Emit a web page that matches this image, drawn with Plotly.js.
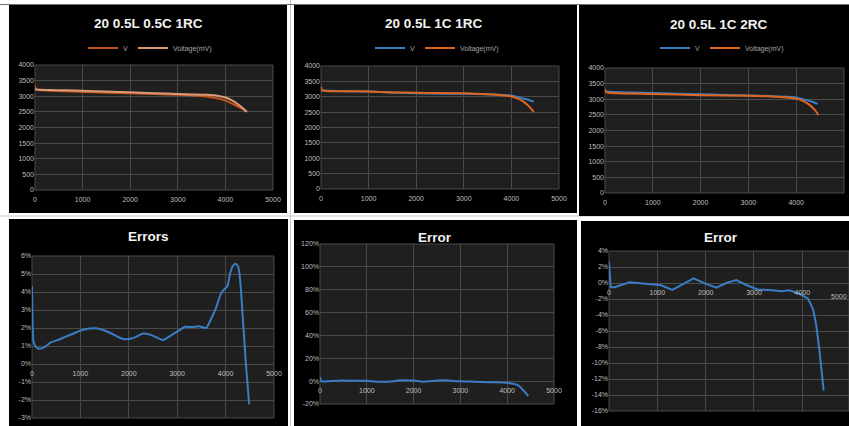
<!DOCTYPE html>
<html><head><meta charset="utf-8">
<script src="https://cdn.plot.ly/plotly-3.0.1.min.js"></script>
<style>html,body{margin:0;padding:0;background:#fff;}#chart{width:849px;height:426px;}</style>
</head><body><div id="chart"></div>
<script>
// ---------- DATA ----------
const titles = ['20 0.5L 0.5C 1RC', '20 0.5L 1C 1RC', '20 0.5L 1C 2RC', 'Errors', 'Error', 'Error'];
const seriesNames = ['V', 'Voltage(mV)'];

// Chart 1: 20 0.5L 0.5C 1RC
const c1V_x = [0, 20, 100, 300, 600, 1000, 1500, 2000, 2500, 3000, 3300, 3600, 3800, 4000, 4200, 4350, 4450];
const c1V_y = [3330, 3220, 3200, 3180, 3160, 3140, 3115, 3095, 3070, 3045, 3025, 2990, 2940, 2860, 2720, 2600, 2500];
const c1M_x = [0, 20, 100, 300, 600, 1000, 1500, 2000, 2500, 3000, 3300, 3600, 3800, 4000, 4150, 4250, 4350, 4450];
const c1M_y = [3240, 3220, 3210, 3200, 3190, 3175, 3150, 3125, 3100, 3075, 3060, 3045, 3025, 2960, 2860, 2760, 2640, 2500];

// Chart 2: 20 0.5L 1C 1RC
const c2V_x = [0, 500, 1000, 1500, 2000, 2500, 3000, 3500, 3800, 4000, 4200, 4350, 4470];
const c2V_y = [3200, 3175, 3170, 3140, 3110, 3100, 3100, 3080, 3060, 3040, 2960, 2900, 2840];
const c2M_x = [0, 20, 100, 500, 1000, 1500, 2000, 2500, 3000, 3500, 3800, 4000, 4150, 4250, 4350, 4420, 4470];
const c2M_y = [3330, 3220, 3190, 3180, 3170, 3140, 3130, 3120, 3110, 3080, 3050, 3010, 2930, 2840, 2720, 2600, 2500];

// Chart 3: 20 0.5L 1C 2RC
const c3V_x = [0, 500, 1000, 1500, 2000, 2500, 3000, 3500, 3800, 4000, 4200, 4350, 4450];
const c3V_y = [3250, 3215, 3200, 3180, 3160, 3140, 3120, 3100, 3080, 3060, 2980, 2910, 2850];
const c3M_x = [0, 20, 150, 1000, 2000, 3000, 3500, 3800, 4000, 4150, 4250, 4350, 4420, 4460];
const c3M_y = [3330, 3230, 3200, 3170, 3130, 3110, 3090, 3060, 3020, 2940, 2850, 2720, 2600, 2500];

// Chart 4: Errors (%)
const e1_x = [0, 20, 35, 80, 139, 250, 383, 550, 696, 850, 1009, 1150, 1287, 1420, 1600, 1780, 1927, 2100, 2296, 2450, 2600, 2706, 2850, 3000, 3165, 3300, 3450, 3597, 3700, 3800, 3896, 3970, 4035, 4090, 4150, 4209, 4260, 4292, 4320, 4348, 4380, 4417, 4450, 4487];
const e1_y = [4.33, 1.6, 1.19, 0.95, 0.85, 0.92, 1.19, 1.35, 1.52, 1.68, 1.87, 1.96, 1.98, 1.93, 1.75, 1.5, 1.37, 1.45, 1.69, 1.62, 1.45, 1.33, 1.55, 1.8, 2.07, 2.05, 2.1, 2.0, 2.5, 3.1, 3.87, 4.15, 4.3, 5.0, 5.45, 5.57, 5.4, 4.9, 4.0, 2.85, 1.6, 0.07, -1.0, -2.24];

// Chart 5: Error (%)
const e2_x = [0, 20, 60, 200, 450, 700, 1000, 1200, 1500, 1700, 2000, 2200, 2500, 2700, 3000, 3300, 3600, 3900, 4050, 4164, 4250, 4307, 4380, 4450];
const e2_y = [3.5, 0.5, -0.3, 0, 0.5, 0.4, 0.3, -0.5, -0.4, 0.8, 0.5, -0.5, 0.6, 0.7, -0.2, -0.5, -1.0, -1.2, -1.8, -2.6, -4.2, -6.4, -9.5, -13.0];

// Chart 6: Error (%)
const e3_x = [0, 34, 117, 270, 428, 634, 910, 1062, 1310, 1531, 1752, 1979, 2221, 2428, 2634, 2841, 3083, 3324, 3566, 3738, 3945, 4117, 4221, 4290, 4359, 4441];
const e3_y = [2.67, -0.54, -0.54, -0.2, 0.08, -0.04, -0.12, -0.25, -0.87, -0.12, 0.58, -0.04, -0.58, 0, 0.37, -0.25, -0.83, -0.87, -1.04, -0.92, -1.37, -1.92, -3.25, -5.33, -8.67, -13.46];

// Tick labels
const xTicks = [0, 1000, 2000, 3000, 4000, 5000];
const xTickText = ['0', '1000', '2000', '3000', '4000', '5000'];
const vTicks = [0, 500, 1000, 1500, 2000, 2500, 3000, 3500, 4000];
const vTickText = ['0', '500', '1000', '1500', '2000', '2500', '3000', '3500', '4000'];
const e1Ticks = [-3, -2, -1, 0, 1, 2, 3, 4, 5, 6];
const e1TickText = ['-3%', '-2%', '-1%', '0%', '1%', '2%', '3%', '4%', '5%', '6%'];
const e2Ticks = [-20, 0, 20, 40, 60, 80, 100, 120];
const e2TickText = ['-20%', '0%', '20%', '40%', '60%', '80%', '100%', '120%'];
const e3Ticks = [-16, -14, -12, -10, -8, -6, -4, -2, 0, 2, 4];
const e3TickText = ['-16%', '-14%', '-12%', '-10%', '-8%', '-6%', '-4%', '-2%', '0%', '2%', '4%'];

// ---------- LAYOUT ----------
const W = 849, H = 426;
const px = x => x / W;
const py = y => 1 - y / H;

const BLUE = '#3b7dc4', ORANGE = '#e0661f', DKORANGE = '#c4531a', SALMON = '#d99a78';
const GRID = '#4a4a4a', TICK = '#bfbfbf', PLOTBG = '#1f1f1f';
const FONT = '"Liberation Sans", Arial, sans-serif';

// plot area pixel boxes [left, right, top, bottom]
const boxes = [
  [35, 273, 65, 190],
  [321, 559, 66, 189],
  [605, 844, 68, 193],
  [32, 274, 256, 418],
  [320, 554, 244, 404],
  [609, 849, 251, 411]
];
const yRanges = [[0, 4000], [0, 4000], [0, 4000], [-3, 6], [-20, 120], [-16, 4]];
const xRanges = [[0, 5000], [0, 5000], [0, 5000], [0, 5000], [0, 5000], [0, 4966]];
const yTickSets = [[vTicks, vTickText], [vTicks, vTickText], [vTicks, vTickText], [e1Ticks, e1TickText], [e2Ticks, e2TickText], [e3Ticks, e3TickText]];

const line = (c) => ({color: c, width: 2, shape: 'spline', smoothing: 0.6});
const traces = [
  {x: c1V_x, y: c1V_y, name: seriesNames[0], xaxis: 'x', yaxis: 'y', line: line(DKORANGE), legend: 'legend'},
  {x: c1M_x, y: c1M_y, name: seriesNames[1], xaxis: 'x', yaxis: 'y', line: line(SALMON), legend: 'legend'},
  {x: c2V_x, y: c2V_y, name: seriesNames[0], xaxis: 'x2', yaxis: 'y2', line: line(BLUE), legend: 'legend2'},
  {x: c2M_x, y: c2M_y, name: seriesNames[1], xaxis: 'x2', yaxis: 'y2', line: line(ORANGE), legend: 'legend2'},
  {x: c3V_x, y: c3V_y, name: seriesNames[0], xaxis: 'x3', yaxis: 'y3', line: line(BLUE), legend: 'legend3'},
  {x: c3M_x, y: c3M_y, name: seriesNames[1], xaxis: 'x3', yaxis: 'y3', line: line(ORANGE), legend: 'legend3'},
  {x: e1_x, y: e1_y, name: 'Errors', xaxis: 'x4', yaxis: 'y4', line: line(BLUE), showlegend: false},
  {x: e2_x, y: e2_y, name: 'Error', xaxis: 'x5', yaxis: 'y5', line: line(BLUE), showlegend: false},
  {x: e3_x, y: e3_y, name: 'Error', xaxis: 'x6', yaxis: 'y6', line: {color: BLUE, width: 2}, showlegend: false}
].map(t => Object.assign({type: 'scatter', mode: 'lines', hoverinfo: 'skip'}, t));

const layout = {
  width: W, height: H,
  margin: {l: 0, r: 0, t: 0, b: 0},
  paper_bgcolor: '#ffffff',
  plot_bgcolor: 'rgba(0,0,0,0)',
  font: {family: FONT, color: TICK, size: 7},
  shapes: [], annotations: []
};

// spreadsheet gaps / panels
const panels = [[9, 287, 5, 213], [294, 577, 5, 213], [579, 849, 5, 216], [9, 288, 219, 426], [294, 577, 220, 426], [581, 849, 221, 426]];
layout.shapes.push({type: 'line', xref: 'paper', yref: 'paper', x0: 0, x1: 1, y0: py(216), y1: py(216), line: {color: '#c8c8c8', width: 1}, layer: 'below'});
layout.shapes.push({type: 'line', xref: 'paper', yref: 'paper', x0: px(290.5), x1: px(290.5), y0: 0, y1: 1, line: {color: '#c8c8c8', width: 1}, layer: 'below'});
layout.shapes.push({type: 'line', xref: 'paper', yref: 'paper', x0: 0, x1: 1, y0: py(4.5), y1: py(4.5), line: {color: '#6a7480', width: 1}, layer: 'below'});
panels.forEach(p => layout.shapes.push({type: 'rect', xref: 'paper', yref: 'paper', x0: px(p[0]), x1: px(p[1]), y0: py(p[3]), y1: py(p[2]), fillcolor: '#000000', line: {width: 0}, layer: 'below'}));

boxes.forEach((b, i) => {
  const n = i === 0 ? '' : String(i + 1);
  const yd = [py(b[3]), py(b[2])];
  const xd = [px(b[0]), Math.min(1, px(b[1]))];
  const yr = yRanges[i];
  // plot area background with border
  layout.shapes.push({type: 'rect', xref: 'paper', yref: 'paper', x0: xd[0], x1: xd[1], y0: yd[0], y1: yd[1],
    fillcolor: PLOTBG, line: {color: GRID, width: 1}, layer: 'below'});
  const xa = {
    domain: xd,
    range: xRanges[i], tickvals: xTicks, ticktext: xTickText,
    showgrid: true, gridcolor: GRID, gridwidth: 1, zeroline: false, showline: false,
    ticks: '', ticklabelstandoff: 4, tickfont: {family: FONT, color: TICK, size: 7}, fixedrange: true
  };
  if (i < 3) {
    xa.anchor = 'y' + n;
  } else {
    xa.anchor = 'free';
    xa.position = yd[0] + (0 - yr[0]) / (yr[1] - yr[0]) * (yd[1] - yd[0]);
  }
  layout['xaxis' + n] = xa;
  layout['yaxis' + n] = {
    domain: yd, range: yr, anchor: 'x' + n,
    tickvals: yTickSets[i][0], ticktext: yTickSets[i][1],
    showgrid: true, gridcolor: GRID, gridwidth: 1, zeroline: false, showline: false,
    ticks: '', tickfont: {family: FONT, color: TICK, size: 7}, fixedrange: true
  };
});

// titles
const titlePos = [[148, 23], [434, 23], [719, 24], [148, 236], [435, 237], [721, 238]];
titlePos.forEach((t, i) => layout.annotations.push({
  text: titles[i], xref: 'paper', yref: 'paper', x: px(t[0]), y: py(t[1]),
  xanchor: 'center', yanchor: 'middle', showarrow: false,
  font: {family: FONT, size: 13.5, color: '#f2f2f2', weight: 'bold'}
}));
// 5000 label at right edge of last chart (cut by the frame in the original)
layout.annotations.push({text: xTickText[5], xref: 'paper', yref: 'paper', x: px(849), y: py(296),
  xanchor: 'right', yanchor: 'middle', showarrow: false, font: {family: FONT, size: 7, color: TICK}});

// legends
const legPos = [[150, 48], [437, 48], [722, 48]];
['legend', 'legend2', 'legend3'].forEach((k, i) => {
  layout[k] = {
    orientation: 'h', x: px(legPos[i][0]), y: py(legPos[i][1]), xanchor: 'center', yanchor: 'middle',
    bgcolor: 'rgba(0,0,0,0)', font: {family: FONT, size: 7, color: '#a6a6a6'},
    itemwidth: 30, tracegroupgap: 0, itemclick: false, itemdoubleclick: false
  };
});

Plotly.newPlot('chart', traces, layout, {staticPlot: true, displayModeBar: false});
</script></body></html>
